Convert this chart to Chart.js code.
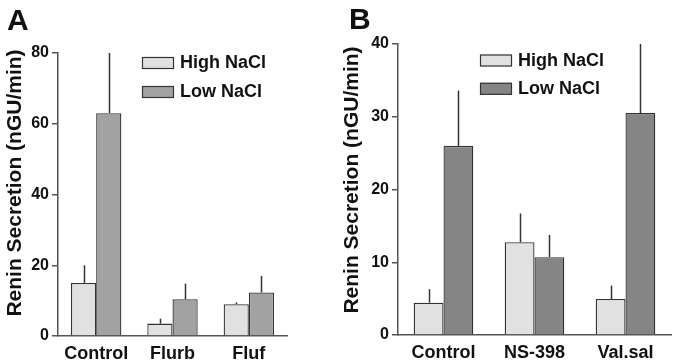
<!DOCTYPE html>
<html>
<head>
<meta charset="utf-8">
<script src="https://cdn.jsdelivr.net/npm/chart.js@4.4.1/dist/chart.umd.min.js"></script>
<style>
  html, body { margin: 0; padding: 0; background: #fff; }
  #wrap { position: relative; width: 675px; height: 364px; overflow: hidden; }
  canvas { position: absolute; top: 0; }
  #cA { left: 0; }
  #cB { left: 337px; }
</style>
</head>
<body>
<div id="wrap">
  <canvas id="cA" width="337" height="364"></canvas>
  <canvas id="cB" width="338" height="364"></canvas>
</div>
<script>
// ---- Data ----
const categoriesA = ['Control', 'Flurb', 'Fluf'];
const highA = [15.0, 3.5, 9.0];
const highErrA = [5.0, 1.4, 0.5];
const lowA = [63.0, 10.4, 12.3];
const lowErrA = [17.0, 4.4, 4.7];
const yTicksA = { min: 0, max: 80, step: 20 };

const categoriesB = ['Control', 'NS-398', 'Val.sal'];
const highB = [4.45, 12.75, 4.95];
const highErrB = [1.85, 3.95, 1.85];
const lowB = [26.0, 10.7, 30.5];
const lowErrB = [7.6, 3.05, 9.5];
const yTicksB = { min: 0, max: 40, step: 10 };

const seriesNames = ['High NaCl', 'Low NaCl'];
const panelLetters = ['A', 'B'];
const yTitle = 'Renin Secretion (nGU/min)';

// ---- Styles ----
const FONT = '"Liberation Sans", Arial, Helvetica, sans-serif';
const highColor = '#e1e1e1';
const lowColorA = '#a2a2a2';
const lowColorB = '#858585';
const edge = '#333333';
const axisColor = '#555555';

const decorPlugin = {
  id: 'decor',
  afterDatasetsDraw(chart, args, opts) {
    const ctx = chart.ctx;
    const yScale = chart.scales.y;
    // error bars
    ctx.save();
    ctx.strokeStyle = edge;
    ctx.lineWidth = 1.5;
    chart.data.datasets.forEach((ds, di) => {
      const meta = chart.getDatasetMeta(di);
      meta.data.forEach((bar, i) => {
        const top = yScale.getPixelForValue(ds.data[i] + ds.errors[i]);
        ctx.beginPath();
        ctx.moveTo(Math.round(bar.x) + 0.5, bar.y);
        ctx.lineTo(Math.round(bar.x) + 0.5, top);
        ctx.stroke();
      });
    });
    ctx.restore();
  },
  afterDraw(chart, args, opts) {
    const ctx = chart.ctx;
    ctx.save();
    ctx.fillStyle = '#111';
    // panel letter
    ctx.font = 'bold 30px ' + FONT;
    ctx.textAlign = 'left';
    ctx.textBaseline = 'alphabetic';
    ctx.fillText(opts.letter, opts.letterX, opts.letterY);
    // y title
    ctx.save();
    ctx.translate(opts.titleX, opts.titleY);
    ctx.rotate(-Math.PI / 2);
    ctx.font = 'bold 21px ' + FONT;
    ctx.textAlign = 'center';
    ctx.textBaseline = 'middle';
    ctx.fillText(yTitle, 0, 0);
    ctx.restore();
    // legend
    ctx.font = 'bold 18px ' + FONT;
    ctx.textAlign = 'left';
    ctx.textBaseline = 'middle';
    chart.data.datasets.forEach((ds, di) => {
      const by = opts.legY + di * opts.legGap;
      ctx.fillStyle = ds.backgroundColor;
      ctx.fillRect(opts.legX, by, 32, 12);
      ctx.strokeStyle = edge;
      ctx.lineWidth = 1.2;
      ctx.strokeRect(opts.legX + 0.5, by + 0.5, 31, 11);
      ctx.fillStyle = '#111';
      ctx.fillText(ds.label, opts.legX + 38, by + 6.5);
    });
    ctx.restore();
  }
};

function makeChart(id, cats, hi, hiErr, lo, loErr, loColor, yt, catPct, layoutPad, yWidth, xHeight, decor) {
  return new Chart(document.getElementById(id), {
    type: 'bar',
    data: {
      labels: cats,
      datasets: [
        { label: seriesNames[0], data: hi, errors: hiErr, backgroundColor: highColor,
          borderColor: edge, borderWidth: 1.3, barPercentage: 1.0, categoryPercentage: catPct },
        { label: seriesNames[1], data: lo, errors: loErr, backgroundColor: loColor,
          borderColor: edge, borderWidth: 1.3, barPercentage: 1.0, categoryPercentage: catPct }
      ]
    },
    options: {
      responsive: false,
      animation: false,
      devicePixelRatio: 1,
      layout: { padding: layoutPad },
      plugins: { legend: { display: false }, tooltip: { enabled: false }, decor: decor },
      scales: {
        x: {
          grid: { display: false, drawTicks: false },
          border: { display: true, color: axisColor, width: 1.5 },
          ticks: { color: '#111', font: { family: FONT, size: 18, weight: 'bold' }, padding: 7, maxRotation: 0 },
          afterFit(s) { s.height = xHeight; }
        },
        y: {
          min: yt.min, max: yt.max,
          grid: { display: true, drawOnChartArea: false, drawTicks: true, tickLength: 6, color: axisColor, lineWidth: 1.5 },
          border: { display: true, color: axisColor, width: 1.5 },
          ticks: { stepSize: yt.step, color: '#111', font: { family: FONT, size: 16, weight: 'bold' }, padding: 3 },
          afterFit(s) { s.width = yWidth; }
        }
      }
    },
    plugins: [decorPlugin]
  });
}

makeChart('cA', categoriesA, highA, highErrA, lowA, lowErrA, lowColorA, yTicksA, 0.66,
  { top: 53, right: 50, bottom: 0, left: 0 }, 58, 28,
  { letter: panelLetters[0], letterX: 7, letterY: 30, titleX: 15, titleY: 183, legX: 142, legY: 57, legGap: 29 });

makeChart('cB', categoriesB, highB, highErrB, lowB, lowErrB, lowColorB, yTicksB, 0.655,
  { top: 44, right: 4, bottom: 0, left: 0 }, 61, 29,
  { letter: panelLetters[1], letterX: 12, letterY: 29, titleX: 15, titleY: 180, legX: 143, legY: 54.5, legGap: 28.3 });
</script>
</body>
</html>
